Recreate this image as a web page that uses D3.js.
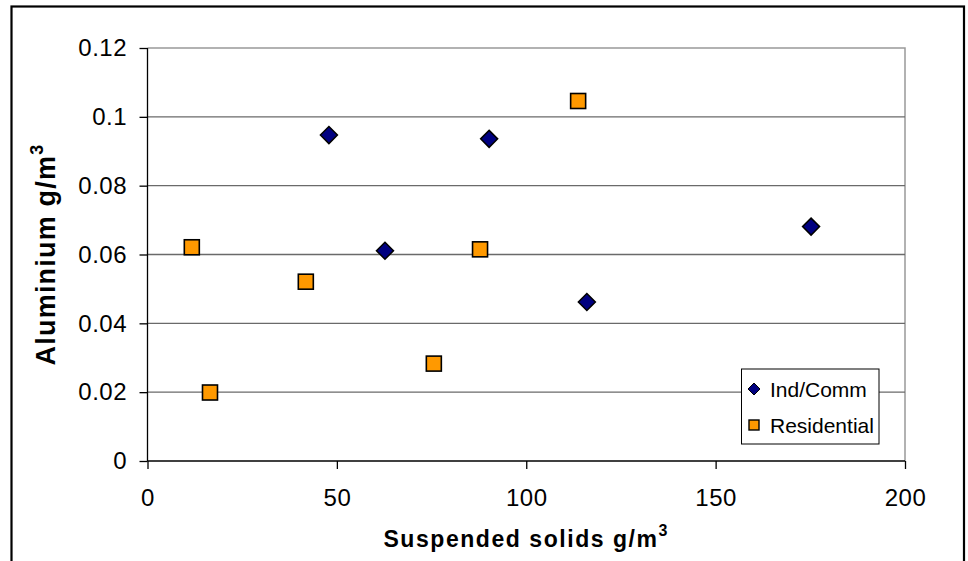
<!DOCTYPE html>
<html>
<head>
<meta charset="utf-8">
<script src="https://cdn.jsdelivr.net/npm/d3@7"></script>
<style>
  html, body { margin: 0; padding: 0; background: #fff; }
  svg { display: block; font-family: "Liberation Sans", Arial, sans-serif; }
</style>
</head>
<body>
<svg id="chart" width="968" height="561"></svg>
<script>
// Suspended solids (g/m3) vs aluminium (g/m3)
const indCommX = [47.9, 62.7, 90.2, 116.0, 175.2];
const indCommY = [0.0947, 0.0611, 0.0936, 0.0462, 0.0681];
const residentialX = [11.7, 16.5, 41.8, 75.6, 87.8, 113.7];
const residentialY = [0.0621, 0.0199, 0.0521, 0.0283, 0.0615, 0.1046];
const xTicks = [0, 50, 100, 150, 200];
const yTicks = [0, 0.02, 0.04, 0.06, 0.08, 0.1, 0.12];
const seriesNames = ["Ind/Comm", "Residential"];

const svg = d3.select("#chart");
const plotL = 147.5, plotR = 905, plotT = 48, plotB = 461;

const x = d3.scaleLinear().domain([0, 200]).range([plotL, plotR]);
const y = d3.scaleLinear().domain([0, 0.12]).range([plotB, plotT]);

// outer chart frame
svg.append("rect")
  .attr("x", 11.5).attr("y", 6.5).attr("width", 952.5).attr("height", 600)
  .attr("fill", "#fff").attr("stroke", "#000").attr("stroke-width", 2.2);

// plot area outline (top/right)
svg.append("path")
  .attr("d", `M${plotL},${plotT}H${plotR}V${plotB}`)
  .attr("fill", "none").attr("stroke", "#999").attr("stroke-width", 1.5);

// horizontal gridlines
svg.append("g").selectAll("line")
  .data(yTicks.filter(t => t > 0 && t < 0.12))
  .join("line")
  .attr("x1", plotL).attr("x2", plotR)
  .attr("y1", d => y(d)).attr("y2", d => y(d))
  .attr("stroke", "#6a6a6a").attr("stroke-width", 1.3);

// y axis
const yAxis = svg.append("g")
  .attr("transform", `translate(${plotL},0)`)
  .call(d3.axisLeft(y).tickValues(yTicks).tickSize(8).tickPadding(12.5)
    .tickFormat(d => String(+d.toFixed(2))));
yAxis.select(".domain").attr("stroke", "#000").attr("stroke-width", 1.3).attr("d", `M0,${plotT}V${plotB}`);
yAxis.selectAll(".tick line").attr("stroke", "#000").attr("stroke-width", 1.3);
yAxis.selectAll(".tick text")
  .attr("font-size", 24).attr("letter-spacing", 0.5).attr("fill", "#000")
  .attr("font-family", "Liberation Sans, Arial, sans-serif");

// x axis
const xAxis = svg.append("g")
  .attr("transform", `translate(0,${plotB})`)
  .call(d3.axisBottom(x).tickValues(xTicks).tickSize(8).tickPadding(20));
xAxis.select(".domain").attr("stroke", "#000").attr("stroke-width", 1.3).attr("d", `M${plotL},0H${plotR}`);
xAxis.selectAll(".tick line").attr("stroke", "#000").attr("stroke-width", 1.3);
xAxis.selectAll(".tick text")
  .attr("font-size", 24).attr("letter-spacing", 0.5).attr("fill", "#000")
  .attr("font-family", "Liberation Sans, Arial, sans-serif");

// axis titles
const xTitle = svg.append("text")
  .attr("x", (plotL + plotR) / 2).attr("y", 546.5)
  .attr("text-anchor", "middle")
  .attr("font-size", 23).attr("font-weight", "bold").attr("letter-spacing", 1.55);
xTitle.append("tspan").text("Suspended solids g/m");
xTitle.append("tspan").attr("dy", -11).attr("font-size", 16).text("3");

const yTitle = svg.append("text")
  .attr("transform", `translate(55,${(plotT + plotB) / 2}) rotate(-90)`)
  .attr("text-anchor", "middle")
  .attr("font-size", 27).attr("font-weight", "bold").attr("letter-spacing", 1.2);
yTitle.append("tspan").text("Aluminium g/m");
yTitle.append("tspan").attr("dy", -12).attr("font-size", 18).text("3");

// markers
const diamond = s => `M0,${-s}L${s},0L0,${s}L${-s},0Z`;
const indComm = indCommX.map((v, i) => ({ x: v, y: indCommY[i] }));
const residential = residentialX.map((v, i) => ({ x: v, y: residentialY[i] }));

svg.append("g").selectAll("path")
  .data(indComm)
  .join("path")
  .attr("transform", d => `translate(${x(d.x)},${y(d.y)})`)
  .attr("d", diamond(8.5))
  .attr("fill", "#000080").attr("stroke", "#000").attr("stroke-width", 1.5);

svg.append("g").selectAll("rect")
  .data(residential)
  .join("rect")
  .attr("x", d => x(d.x) - 7.5).attr("y", d => y(d.y) - 7.5)
  .attr("width", 15).attr("height", 15)
  .attr("fill", "#FF9900").attr("stroke", "#000").attr("stroke-width", 1.6);

// legend
const lg = svg.append("g");
lg.append("rect")
  .attr("x", 741.5).attr("y", 369).attr("width", 137.5).attr("height", 75)
  .attr("fill", "#fff").attr("stroke", "#000").attr("stroke-width", 1);
lg.append("path")
  .attr("transform", "translate(754,389)")
  .attr("d", diamond(6))
  .attr("fill", "#000080").attr("stroke", "#000").attr("stroke-width", 1);
lg.append("rect")
  .attr("x", 749).attr("y", 420).attr("width", 10).attr("height", 10)
  .attr("fill", "#FF9900").attr("stroke", "#000").attr("stroke-width", 1.4);
lg.selectAll("text")
  .data(seriesNames)
  .join("text")
  .attr("x", 770)
  .attr("y", (d, i) => 389 + i * 36)
  .attr("dy", "0.36em")
  .attr("font-size", 21)
  .text(d => d);
</script>
</body>
</html>
